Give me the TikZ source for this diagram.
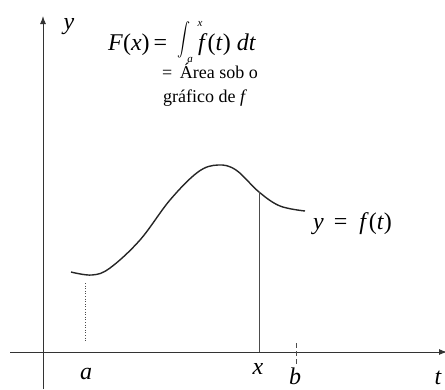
\documentclass[tikz,border=0pt]{standalone}
\usepackage{fontspec}
\setmainfont{Liberation Serif}
\usetikzlibrary{arrows.meta}
\begin{document}
\begin{tikzpicture}[x=1pt,y=-1pt,
  axis/.style={line width=1pt, draw=black!80, -{Latex[length=8pt,width=6pt]}},
  lbl/.style={font=\fontsize{24}{26}\selectfont\itshape, inner sep=0pt, anchor=base},
  big/.style={font=\fontsize{24}{26}\selectfont, inner sep=0pt, anchor=base west},
  small/.style={font=\fontsize{11}{11}\selectfont\itshape, inner sep=0pt},
  txt/.style={font=\fontsize{18}{22}\selectfont, inner sep=0pt, anchor=base west},
  thin/.style={line width=0.6pt, draw=black!70}]
\useasboundingbox (0,0) rectangle (445,389);
% axes
\coordinate (yb) at (43,389);
\coordinate (yt) at (43,16);
\coordinate (tl) at (10,352);
\coordinate (tr) at (447,352);
\draw[axis] (yb) -- (yt);
\draw[axis] (tl) -- (tr);
% curve
\draw[line width=1.4pt, draw=black!85] plot[smooth, tension=0.6] coordinates
  {(71,272) (92,275) (110,268) (140,240) (170,200) (198,172) (218,165) (236,170) (259,192) (280,206) (305,211)};
% vertical lines
\coordinate (xc) at (259,192);
\coordinate (xa) at (259,352);
\draw[thin] (xc) -- (xa);
\coordinate (ac) at (85,283);
\coordinate (aa) at (85,342);
\draw[thin, dotted] (ac) -- (aa);
\coordinate (bt) at (296,343);
\coordinate (bb) at (296,366);
\draw[thin, dashed, dash pattern=on 5pt off 3pt] (bt) -- (bb);
% labels
\node[lbl] (ly) at (69,29) {y};
\node[lbl] (la) at (86,379) {a};
\node[lbl] (lx) at (258,374) {x};
\node[lbl] (lb) at (295,384) {b};
\node[lbl] (lt) at (438,384) {t};
\node[big] (lf) at (313,229) {\textit{y}\ \,=\ \ \textit{f}(\textit{t})};
% formula
\node[big] (F) at (108,50) {\textit{F}(\textit{x})\,=};
\node[inner sep=0pt] (int) at (184,40) {\scalebox{1.3}[1.65]{$\displaystyle\int$}};
\node[small] (ia) at (190,60) {a};
\node[small] (ix) at (200,24) {x};
\node[big] (ft) at (198,50) {\textit{f}(\textit{t}) \textit{dt}};
\node[txt] (A1) at (162,78) {=\ \,Área sob o};
\node[txt] (A2) at (163,102) {gráfico de \textit{f}};
\end{tikzpicture}
\end{document}
